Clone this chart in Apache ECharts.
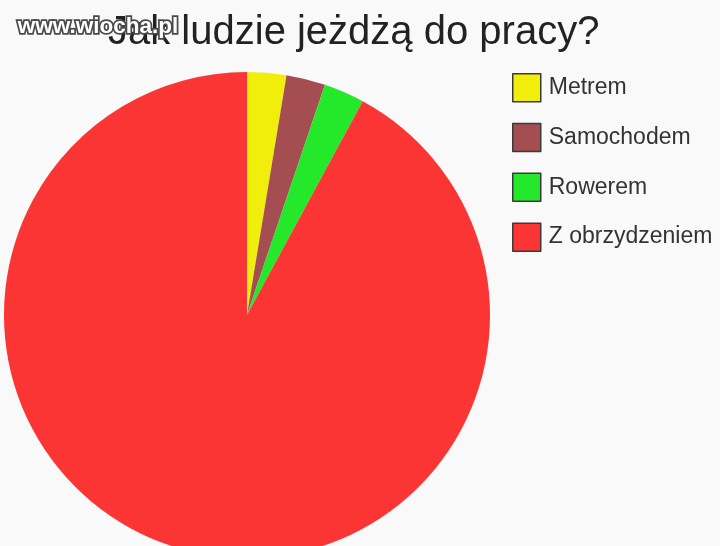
<!DOCTYPE html>
<html>
<head>
<meta charset="utf-8">
<script src="https://cdn.jsdelivr.net/npm/echarts@6/dist/echarts.min.js"></script>
<style>
html,body{margin:0;padding:0;background:#f9f9f9;}
#c{width:720px;height:546px;}
</style>
</head>
<body>
<div id="c"></div>
<script>
const categories = ['Metrem', 'Samochodem', 'Rowerem', 'Z obrzydzeniem'];
const values = [2.6, 2.6, 2.7, 92.1];
const colors = ['#f2ee0c', '#a44e52', '#24e82a', '#fb3434'];
const titleText = 'Jak ludzie jeżdżą do pracy?';
const watermarkText = 'www.wiocha.pl';

const chart = echarts.init(document.getElementById('c'), null, {renderer: 'canvas'});
chart.setOption({
  backgroundColor: '#f9f9f9',
  animation: false,
  title: {
    text: titleText,
    left: 108,
    top: 13,
    padding: 0,
    textStyle: {
      fontFamily: 'Liberation Sans',
      fontSize: 40,
      fontWeight: 'normal',
      color: '#222'
    }
  },
  legend: {
    orient: 'vertical',
    left: 512,
    top: 73,
    padding: 0,
    itemWidth: 28,
    itemHeight: 28,
    itemGap: 20.3,
    icon: 'rect',
    data: categories,
    itemStyle: {borderColor: '#3a3a3a', borderWidth: 1.5},
    textStyle: {
      fontFamily: 'Liberation Sans',
      fontSize: 23,
      color: '#333',
      padding: [2, 0, 0, 3]
    }
  },
  graphic: [{
    type: 'text',
    left: 16,
    top: 14,
    z: 100,
    style: {
      text: watermarkText,
      fontFamily: 'Liberation Sans',
      fontWeight: 'bold',
      fontSize: 22.5,
      fill: '#ffffff',
      stroke: '#4a4a4a',
      lineWidth: 3.5
    }
  }],
  series: [{
    type: 'pie',
    center: [247, 315],
    radius: 243,
    startAngle: 90,
    clockwise: true,
    label: {show: false},
    labelLine: {show: false},
    emphasis: {disabled: true},
    itemStyle: {borderWidth: 0},
    data: categories.map((name, i) => ({
      name: name,
      value: values[i],
      itemStyle: {color: colors[i]}
    }))
  }]
});
</script>
</body>
</html>
